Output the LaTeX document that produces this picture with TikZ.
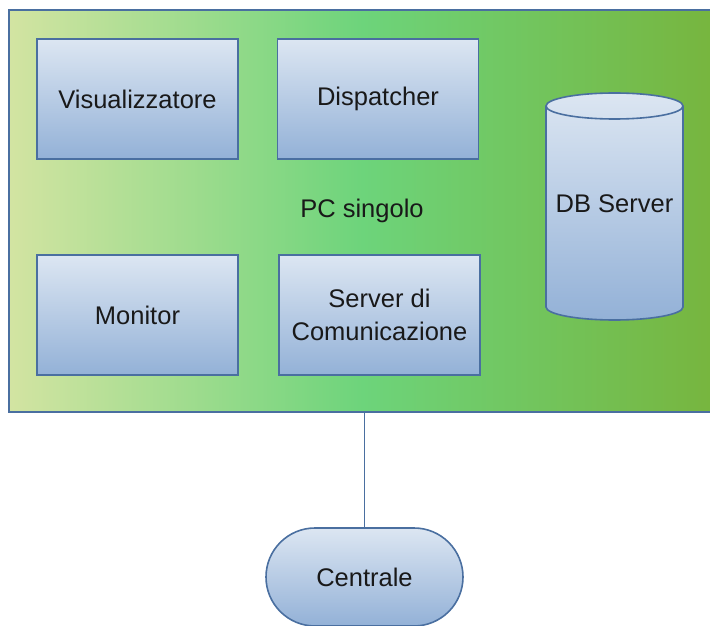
\documentclass[tikz,border=0pt]{standalone}
\usepackage{fontspec}
\setmainfont{Liberation Sans}
\usetikzlibrary{shapes.misc}

\definecolor{edge}{HTML}{4A6FA0}
\definecolor{boxtop}{HTML}{DCE6F2}
\definecolor{boxbot}{HTML}{93B1D7}
\definecolor{pcleft}{HTML}{D3E4A2}
\definecolor{pcmid}{HTML}{6DD47B}
\definecolor{pcright}{HTML}{77B53E}

\tikzset{
  x=1pt, y=1pt,
  txt/.style={font=\fontsize{25.5}{33}\selectfont, text=black!90, align=center},
  pcbox/.style={draw=edge, line width=1.6pt, left color=pcleft, right color=pcright, middle color=pcmid,
    minimum width=706pt, minimum height=402pt, inner sep=0pt, txt},
  module/.style={draw=edge, line width=1.6pt, top color=boxtop, bottom color=boxbot,
    minimum width=201pt, minimum height=120pt, inner sep=0pt, txt},
  terminal/.style={rounded rectangle, draw=edge, line width=1.6pt, top color=boxtop, bottom color=boxbot,
    minimum width=197pt, minimum height=98pt, inner sep=0pt, txt},
  link/.style={draw=edge, line width=1.6pt},
}

\begin{document}
\begin{tikzpicture}
\useasboundingbox (0,0) rectangle (710,625);

% computer enclosure
\node[pcbox] (pc) at (362,414) {PC singolo};

% software modules
\node[module] (vis) at (137.5,526) {Visualizzatore};
\node[module] (disp) at (378,526) {Dispatcher};
\node[module] (mon) at (137.5,310) {Monitor};
\node[module] (com) at (379.5,310) {Server di\\Comunicazione};

% database cylinder
\path[draw=edge, line width=1.6pt, top color=boxtop, bottom color=boxbot]
  (546,519) -- (546,318) arc[start angle=180, end angle=360, x radius=68.5, y radius=13]
  -- (683,519) arc[start angle=0, end angle=180, x radius=68.5, y radius=13] -- cycle;
\draw[edge, line width=1.6pt] (546,519) arc[start angle=180, end angle=360, x radius=68.5, y radius=13];
\node[txt] (db) at (614.5,421) {DB Server};

% central station and its link
\node[terminal] (cen) at (364.5,48) {Centrale};
\draw[link] (cen.north) -- (cen.north |- pc.south);
\end{tikzpicture}
\end{document}
